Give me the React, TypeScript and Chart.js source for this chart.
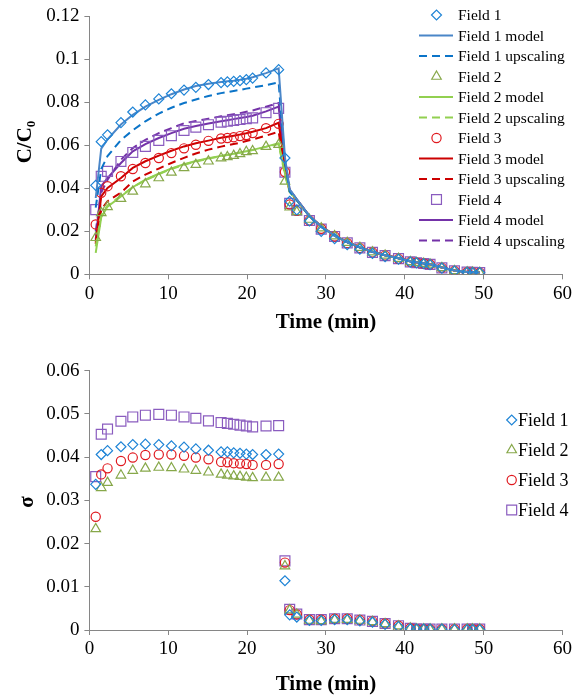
import React, { useEffect, useRef } from 'react';
import { Chart, registerables } from 'chart.js';

Chart.register(...registerables);

const FONT = "'Liberation Serif', 'Times New Roman', Times, serif";

// ---------- data ----------
const times = [0.8, 1.5, 2.3, 4.0, 5.5, 7.1, 8.8, 10.4, 12.0, 13.5, 15.1, 16.7, 17.5, 18.3, 19.1, 19.9, 20.7, 22.4, 24.0,
  24.8, 25.4, 26.3, 27.9, 29.4, 31.1, 32.7, 34.3, 35.9, 37.5, 39.2, 40.7, 41.5, 42.4, 43.2, 44.7, 46.3, 47.9, 48.6, 49.5];

const xTickLabels = ['0', '10', '20', '30', '40', '50', '60'];
const topYTickLabels = ['0', '0.02', '0.04', '0.06', '0.08', '0.1', '0.12'];
const bottomYTickLabels = ['0', '0.01', '0.02', '0.03', '0.04', '0.05', '0.06'];

const field1Obs = [0.0414, 0.0617, 0.0649, 0.0706, 0.0755, 0.0788, 0.0816, 0.0840, 0.0857, 0.0870, 0.0883, 0.0892, 0.0895, 0.0898, 0.0901, 0.0906, 0.0913, 0.0937, 0.0952,
  0.0541, 0.0340, 0.0300, 0.0248, 0.0200, 0.0166, 0.0138, 0.0117, 0.0097, 0.0082, 0.0070, 0.0057, 0.0053, 0.0049, 0.0045, 0.0029, 0.0015, 0.0009, 0.0008, 0.0008];
const field1Model = [0.0355, 0.0585, 0.0628, 0.0697, 0.0742, 0.0780, 0.0812, 0.0838, 0.0860, 0.0876, 0.0887, 0.0895, 0.0898, 0.0901, 0.0905, 0.0910, 0.0917, 0.0936, 0.0958,
  0.0545, 0.0395, 0.0350, 0.0272, 0.0222, 0.0180, 0.0150, 0.0125, 0.0105, 0.0089, 0.0075, 0.0061, 0.0056, 0.0051, 0.0047, 0.0032, 0.0018, 0.0011, 0.0009, 0.0008];
const field1Upscaling = [0.0310, 0.0490, 0.0550, 0.0625, 0.0670, 0.0712, 0.0748, 0.0775, 0.0797, 0.0813, 0.0830, 0.0843, 0.0848, 0.0853, 0.0858, 0.0864, 0.0869, 0.0880, 0.0893,
  0.0520, 0.0385, 0.0345, 0.0270, 0.0220, 0.0179, 0.0149, 0.0124, 0.0104, 0.0088, 0.0074, 0.0060, 0.0055, 0.0050, 0.0046, 0.0031, 0.0017, 0.0010, 0.0009, 0.0008];

const field2Obs = [0.0170, 0.0286, 0.0314, 0.0352, 0.0386, 0.0420, 0.0448, 0.0474, 0.0495, 0.0510, 0.0526, 0.0541, 0.0546, 0.0552, 0.0560, 0.0570, 0.0574, 0.0594, 0.0603,
  0.0432, 0.0312, 0.0290, 0.0255, 0.0215, 0.0178, 0.0147, 0.0124, 0.0103, 0.0088, 0.0073, 0.0058, 0.0054, 0.0050, 0.0046, 0.0030, 0.0016, 0.0010, 0.0009, 0.0008];
const field2Model = [0.0100, 0.0265, 0.0315, 0.0362, 0.0405, 0.0440, 0.0468, 0.0493, 0.0512, 0.0527, 0.0540, 0.0551, 0.0556, 0.0561, 0.0567, 0.0573, 0.0579, 0.0594, 0.0610,
  0.0470, 0.0385, 0.0345, 0.0270, 0.0222, 0.0180, 0.0150, 0.0125, 0.0105, 0.0089, 0.0075, 0.0061, 0.0056, 0.0051, 0.0047, 0.0032, 0.0018, 0.0011, 0.0009, 0.0008];
const field2Upscaling = [0.0130, 0.0275, 0.0320, 0.0365, 0.0405, 0.0438, 0.0466, 0.0490, 0.0510, 0.0525, 0.0538, 0.0550, 0.0555, 0.0560, 0.0566, 0.0572, 0.0578, 0.0593, 0.0606,
  0.0460, 0.0383, 0.0345, 0.0271, 0.0223, 0.0181, 0.0151, 0.0126, 0.0106, 0.0089, 0.0075, 0.0061, 0.0056, 0.0051, 0.0047, 0.0032, 0.0018, 0.0011, 0.0009, 0.0008];

const field3Obs = [0.0232, 0.0379, 0.0410, 0.0456, 0.0490, 0.0518, 0.0541, 0.0564, 0.0586, 0.0603, 0.0621, 0.0632, 0.0634, 0.0638, 0.0643, 0.0648, 0.0657, 0.0680, 0.0700,
  0.0476, 0.0325, 0.0295, 0.0250, 0.0212, 0.0176, 0.0145, 0.0122, 0.0102, 0.0087, 0.0072, 0.0058, 0.0054, 0.0050, 0.0046, 0.0030, 0.0016, 0.0010, 0.0009, 0.0008];
const field3Model = [0.0147, 0.0363, 0.0402, 0.0448, 0.0495, 0.0526, 0.0552, 0.0575, 0.0595, 0.0610, 0.0622, 0.0635, 0.0640, 0.0645, 0.0650, 0.0656, 0.0663, 0.0680, 0.0705,
  0.0500, 0.0390, 0.0348, 0.0272, 0.0223, 0.0181, 0.0150, 0.0125, 0.0105, 0.0089, 0.0075, 0.0061, 0.0056, 0.0051, 0.0047, 0.0032, 0.0018, 0.0011, 0.0009, 0.0008];
const field3Upscaling = [0.0140, 0.0300, 0.0340, 0.0380, 0.0432, 0.0464, 0.0492, 0.0518, 0.0542, 0.0562, 0.0580, 0.0594, 0.0600, 0.0606, 0.0612, 0.0620, 0.0627, 0.0645, 0.0663,
  0.0480, 0.0385, 0.0345, 0.0270, 0.0222, 0.0180, 0.0150, 0.0125, 0.0105, 0.0089, 0.0075, 0.0061, 0.0056, 0.0051, 0.0047, 0.0032, 0.0018, 0.0011, 0.0009, 0.0008];

const field4Obs = [0.0301, 0.0456, 0.0479, 0.0525, 0.0567, 0.0595, 0.0623, 0.0645, 0.0669, 0.0685, 0.0696, 0.0708, 0.0712, 0.0716, 0.0720, 0.0724, 0.0728, 0.0752, 0.0772,
  0.0475, 0.0330, 0.0298, 0.0250, 0.0210, 0.0176, 0.0146, 0.0123, 0.0102, 0.0087, 0.0073, 0.0058, 0.0054, 0.0050, 0.0046, 0.0030, 0.0016, 0.0010, 0.0009, 0.0008];
const field4Model = [0.0160, 0.0410, 0.0448, 0.0518, 0.0572, 0.0606, 0.0634, 0.0657, 0.0677, 0.0690, 0.0702, 0.0712, 0.0717, 0.0722, 0.0727, 0.0732, 0.0738, 0.0758, 0.0780,
  0.0510, 0.0392, 0.0348, 0.0272, 0.0223, 0.0181, 0.0150, 0.0125, 0.0105, 0.0089, 0.0075, 0.0061, 0.0056, 0.0051, 0.0047, 0.0032, 0.0018, 0.0011, 0.0009, 0.0008];
const field4Upscaling = [0.0200, 0.0380, 0.0440, 0.0533, 0.0587, 0.0626, 0.0657, 0.0680, 0.0703, 0.0713, 0.0724, 0.0735, 0.0740, 0.0745, 0.0750, 0.0756, 0.0762, 0.0780, 0.0797,
  0.0515, 0.0393, 0.0348, 0.0272, 0.0223, 0.0181, 0.0150, 0.0125, 0.0105, 0.0089, 0.0075, 0.0061, 0.0056, 0.0051, 0.0047, 0.0032, 0.0018, 0.0011, 0.0009, 0.0008];

const sigmaField1 = [0.0337, 0.0406, 0.0415, 0.0424, 0.0429, 0.0430, 0.0429, 0.0426, 0.0423, 0.0419, 0.0416, 0.0412, 0.0412, 0.0410, 0.0409, 0.0407, 0.0406, 0.0406, 0.0407,
  0.0114, 0.0035, 0.0030, 0.0022, 0.0022, 0.0024, 0.0024, 0.0021, 0.0018, 0.0013, 0.0008, 0.0003, 0.0002, 0.0002, 0.0002, 0.0002, 0.0001, 0.0001, 0.0001, 0.0001];
const sigmaField2 = [0.0234, 0.0329, 0.0341, 0.0358, 0.0369, 0.0374, 0.0376, 0.0375, 0.0372, 0.0369, 0.0365, 0.0360, 0.0358, 0.0356, 0.0355, 0.0353, 0.0352, 0.0353, 0.0353,
  0.0148, 0.0046, 0.0036, 0.0022, 0.0021, 0.0024, 0.0024, 0.0022, 0.0019, 0.0014, 0.0009, 0.0004, 0.0002, 0.0002, 0.0002, 0.0002, 0.0002, 0.0002, 0.0002, 0.0002];
const sigmaField3 = [0.0262, 0.0360, 0.0374, 0.0391, 0.0399, 0.0405, 0.0406, 0.0406, 0.0403, 0.0399, 0.0395, 0.0389, 0.0388, 0.0386, 0.0385, 0.0384, 0.0382, 0.0382, 0.0384,
  0.0156, 0.0046, 0.0036, 0.0024, 0.0024, 0.0026, 0.0026, 0.0023, 0.0020, 0.0015, 0.0010, 0.0004, 0.0002, 0.0002, 0.0002, 0.0002, 0.0002, 0.0002, 0.0002, 0.0002];
const sigmaField4 = [0.0355, 0.0453, 0.0465, 0.0483, 0.0493, 0.0497, 0.0499, 0.0497, 0.0493, 0.0490, 0.0484, 0.0480, 0.0478, 0.0476, 0.0474, 0.0472, 0.0470, 0.0472, 0.0473,
  0.0160, 0.0048, 0.0037, 0.0024, 0.0024, 0.0026, 0.0026, 0.0023, 0.0020, 0.0015, 0.0010, 0.0004, 0.0002, 0.0002, 0.0002, 0.0002, 0.0002, 0.0002, 0.0002, 0.0002];

// ---------- styles ----------
const C1_MARK = '#1f84d6';
const C1_MODEL = '#4a86c8';
const C1_UP = '#0b74c8';
const C2_MARK = '#87a84a';
const C2_LINE = '#92d050';
const C3_MARK = '#e0191f';
const C3_LINE = '#cc0000';
const C4_MARK = '#8a5cbf';
const C4_LINE = '#7432a8';
const AXIS = '#868686';

const pts = (vals: number[]) => times.map((t, i) => ({ x: t, y: vals[i] }));

const markerRadius: Record<string, number> = { rectRot: 5, triangle: 5.5, circle: 4.6, rect: 7 };

const markerDs = (label: string, vals: number[], style: string, color: string) => ({
  label,
  data: pts(vals),
  showLine: false,
  pointStyle: style,
  pointRadius: markerRadius[style],
  pointHoverRadius: markerRadius[style],
  pointBorderColor: color,
  pointBackgroundColor: 'rgba(0,0,0,0)',
  pointBorderWidth: 1.2,
  borderColor: color,
  backgroundColor: 'rgba(0,0,0,0)',
});

const lineDs = (label: string, vals: number[], color: string, dashed: boolean) => ({
  label,
  data: pts(vals),
  showLine: true,
  borderColor: color,
  backgroundColor: color,
  borderWidth: 2,
  borderDash: dashed ? [8, 5] : [],
  pointRadius: 0,
  pointHoverRadius: 0,
  tension: 0,
  fill: false,
});

function drawMarker(ctx: CanvasRenderingContext2D, style: string, x: number, y: number, r: number, color: string) {
  ctx.save();
  ctx.strokeStyle = color;
  ctx.lineWidth = 1.2;
  ctx.beginPath();
  if (style === 'rectRot') {
    ctx.moveTo(x - r, y); ctx.lineTo(x, y - r); ctx.lineTo(x + r, y); ctx.lineTo(x, y + r); ctx.closePath();
  } else if (style === 'triangle') {
    ctx.moveTo(x, y - r); ctx.lineTo(x + 0.866 * r, y + r / 2); ctx.lineTo(x - 0.866 * r, y + r / 2); ctx.closePath();
  } else if (style === 'circle') {
    ctx.arc(x, y, r, 0, Math.PI * 2);
  } else {
    const s = r * Math.SQRT1_2;
    ctx.rect(x - s, y - s, 2 * s, 2 * s);
  }
  ctx.stroke();
  ctx.restore();
}

function legendPlugin(cfg: { x0: number; x1: number; markX: number; textX: number; y0: number; dy: number; size: number }) {
  return {
    id: 'customLegend',
    afterDraw(chart: any) {
      const ctx: CanvasRenderingContext2D = chart.ctx;
      ctx.save();
      ctx.font = `${cfg.size}px ${FONT}`;
      ctx.textBaseline = 'middle';
      ctx.textAlign = 'left';
      chart.data.datasets.forEach((ds: any, i: number) => {
        const y = cfg.y0 + i * cfg.dy;
        if (ds.showLine === false) {
          drawMarker(ctx, ds.pointStyle, cfg.markX, y, ds.pointRadius, ds.pointBorderColor);
        } else {
          ctx.save();
          ctx.strokeStyle = ds.borderColor;
          ctx.lineWidth = ds.borderWidth;
          ctx.setLineDash(ds.borderDash || []);
          ctx.beginPath();
          ctx.moveTo(cfg.x0, y);
          ctx.lineTo(cfg.x1, y);
          ctx.stroke();
          ctx.restore();
        }
        ctx.fillStyle = '#000';
        ctx.fillText(ds.label, cfg.textX, y + 1);
      });
      ctx.restore();
    },
  };
}

function yTitlePlugin(cfg: { main: string; sub?: string; x: number; y: number; size: number; subSize: number }) {
  return {
    id: 'yTitle',
    afterDraw(chart: any) {
      const ctx: CanvasRenderingContext2D = chart.ctx;
      ctx.save();
      ctx.fillStyle = '#000';
      ctx.textBaseline = 'alphabetic';
      ctx.textAlign = 'left';
      ctx.font = `bold ${cfg.size}px ${FONT}`;
      const w1 = ctx.measureText(cfg.main).width;
      let w2 = 0;
      if (cfg.sub) {
        ctx.font = `bold ${cfg.subSize}px ${FONT}`;
        w2 = ctx.measureText(cfg.sub).width;
      }
      ctx.translate(cfg.x, cfg.y);
      ctx.rotate(-Math.PI / 2);
      const start = -(w1 + w2) / 2;
      ctx.font = `bold ${cfg.size}px ${FONT}`;
      ctx.fillText(cfg.main, start, 0);
      if (cfg.sub) {
        ctx.font = `bold ${cfg.subSize}px ${FONT}`;
        ctx.fillText(cfg.sub, start + w1, 4);
      }
      ctx.restore();
    },
  };
}

function makeScales(yMax: number, yStep: number, yLabels: string[], xHeight: number) {
  const gridCfg = { drawOnChartArea: false, color: AXIS, tickLength: 5, lineWidth: 1 };
  return {
    x: {
      type: 'linear' as const,
      min: 0,
      max: 60,
      ticks: {
        stepSize: 10,
        padding: 3,
        color: '#000',
        font: { family: FONT, size: 19 },
        callback: (_v: any, i: number) => xTickLabels[i] ?? '',
        maxRotation: 0,
      },
      grid: gridCfg,
      border: { display: true, color: AXIS, width: 1 },
      title: { display: true, text: 'Time (min)', color: '#000', font: { family: FONT, size: 21, weight: 'bold' as const }, padding: { top: 0, bottom: 0 } },
      afterFit: (s: any) => { s.height = xHeight; },
    },
    y: {
      type: 'linear' as const,
      min: 0,
      max: yMax,
      ticks: {
        stepSize: yStep,
        padding: 5,
        color: '#000',
        font: { family: FONT, size: 19 },
        callback: (_v: any, i: number) => yLabels[i] ?? '',
      },
      grid: gridCfg,
      border: { display: true, color: AXIS, width: 1 },
      afterFit: (s: any) => { s.width = 89.4; },
    },
  };
}

export default function App() {
  const topRef = useRef<HTMLCanvasElement>(null);
  const bottomRef = useRef<HTMLCanvasElement>(null);

  useEffect(() => {
    const top = new Chart(topRef.current!, {
      type: 'line',
      data: {
        datasets: [
          markerDs('Field 1', field1Obs, 'rectRot', C1_MARK),
          lineDs('Field 1 model', field1Model, C1_MODEL, false),
          lineDs('Field 1 upscaling', field1Upscaling, C1_UP, true),
          markerDs('Field 2', field2Obs, 'triangle', C2_MARK),
          lineDs('Field 2 model', field2Model, C2_LINE, false),
          lineDs('Field 2 upscaling', field2Upscaling, C2_LINE, true),
          markerDs('Field 3', field3Obs, 'circle', C3_MARK),
          lineDs('Field 3 model', field3Model, C3_LINE, false),
          lineDs('Field 3 upscaling', field3Upscaling, C3_LINE, true),
          markerDs('Field 4', field4Obs, 'rect', C4_MARK),
          lineDs('Field 4 model', field4Model, C4_LINE, false),
          lineDs('Field 4 upscaling', field4Upscaling, C4_LINE, true),
        ] as any,
      },
      options: {
        responsive: false,
        animation: false,
        layout: { padding: { top: 15.7, right: 9.8, left: 0, bottom: 0 } },
        plugins: { legend: { display: false }, tooltip: { enabled: false } },
        scales: makeScales(0.12, 0.02, topYTickLabels, 335 - 274.3) as any,
      },
      plugins: [
        legendPlugin({ x0: 419, x1: 453, markX: 436.5, textX: 458, y0: 15, dy: 20.5, size: 15.5 }),
        yTitlePlugin({ main: 'C/C', sub: '0', x: 31, y: 142, size: 21, subSize: 13 }),
      ],
    });

    const bottom = new Chart(bottomRef.current!, {
      type: 'line',
      data: {
        datasets: [
          markerDs('Field 1', sigmaField1, 'rectRot', C1_MARK),
          markerDs('Field 2', sigmaField2, 'triangle', C2_MARK),
          markerDs('Field 3', sigmaField3, 'circle', C3_MARK),
          markerDs('Field 4', sigmaField4, 'rect', C4_MARK),
        ] as any,
      },
      options: {
        responsive: false,
        animation: false,
        layout: { padding: { top: 25.7, right: 9.8, left: 0, bottom: 0 } },
        plugins: { legend: { display: false }, tooltip: { enabled: false } },
        scales: makeScales(0.06, 0.01, bottomYTickLabels, 352 - 285) as any,
      },
      plugins: [
        legendPlugin({ x0: 505, x1: 518, markX: 511.7, textX: 518, y0: 75, dy: 30, size: 18 }),
        yTitlePlugin({ main: 'σ', x: 33, y: 157, size: 21, subSize: 13 }),
      ],
    });

    return () => {
      top.destroy();
      bottom.destroy();
    };
  }, []);

  return (
    <div style={{ position: 'fixed', left: 0, top: 0, width: 575, height: 697, background: '#fff' }}>
      <canvas ref={topRef} width={575} height={335} style={{ position: 'absolute', left: 0, top: 0 }} />
      <canvas ref={bottomRef} width={575} height={352} style={{ position: 'absolute', left: 0, top: 345 }} />
    </div>
  );
}
